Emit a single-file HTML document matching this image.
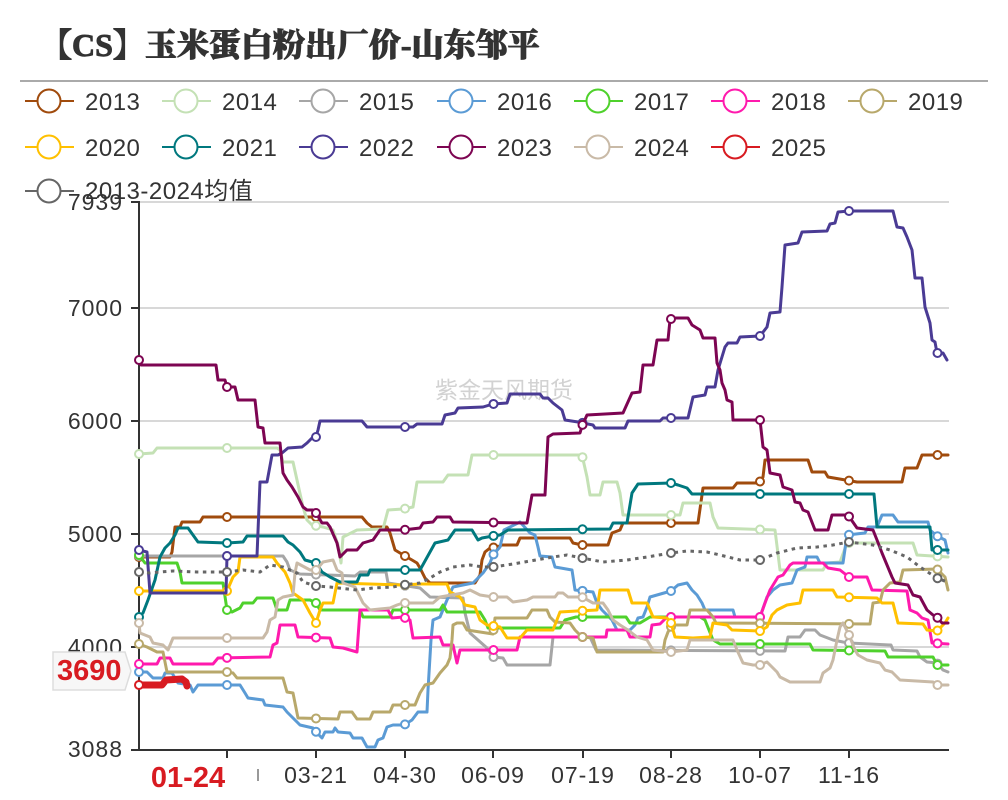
<!DOCTYPE html>
<html><head><meta charset="utf-8">
<style>
html,body{margin:0;padding:0;background:#fff;width:1008px;height:800px;overflow:hidden}
svg{display:block}
.t{font-family:"Liberation Sans","Noto Sans CJK SC",sans-serif;fill:#333}
</style></head><body>
<svg id="c" width="1008" height="800" viewBox="0 0 1008 800" xmlns="http://www.w3.org/2000/svg">
<rect width="1008" height="800" fill="#fff"/>
<!-- title -->
<text x="40" y="56" font-family="'Liberation Serif','Noto Serif CJK SC',serif" font-weight="900" font-size="32" fill="#333" stroke="#333" stroke-width="0.9">【CS】玉米蛋白粉出厂价-山东邹平</text>
<line x1="20" y1="81" x2="988" y2="81" stroke="#aaa" stroke-width="2"/>

<!-- legend -->
<g id="legend" stroke-width="2" fill="#fff">
<g stroke="#a04b0d"><line x1="25" y1="101" x2="74" y2="101"/><circle cx="49" cy="101" r="11.5"/></g>
<g stroke="#c4e1b5"><line x1="162" y1="101" x2="211" y2="101"/><circle cx="186" cy="101" r="11.5"/></g>
<g stroke="#a6a6a6"><line x1="299" y1="101" x2="348" y2="101"/><circle cx="323" cy="101" r="11.5"/></g>
<g stroke="#5b9bd5"><line x1="437" y1="101" x2="486" y2="101"/><circle cx="461" cy="101" r="11.5"/></g>
<g stroke="#4fd12c"><line x1="574" y1="101" x2="623" y2="101"/><circle cx="598" cy="101" r="11.5"/></g>
<g stroke="#ff1aad"><line x1="711" y1="101" x2="760" y2="101"/><circle cx="735" cy="101" r="11.5"/></g>
<g stroke="#b8a86b"><line x1="848" y1="101" x2="897" y2="101"/><circle cx="872" cy="101" r="11.5"/></g>
<g stroke="#ffc000"><line x1="25" y1="147" x2="74" y2="147"/><circle cx="49" cy="147" r="11.5"/></g>
<g stroke="#00787e"><line x1="162" y1="147" x2="211" y2="147"/><circle cx="186" cy="147" r="11.5"/></g>
<g stroke="#4a3b94"><line x1="299" y1="147" x2="348" y2="147"/><circle cx="323" cy="147" r="11.5"/></g>
<g stroke="#7d0552"><line x1="437" y1="147" x2="486" y2="147"/><circle cx="461" cy="147" r="11.5"/></g>
<g stroke="#c9baa7"><line x1="574" y1="147" x2="623" y2="147"/><circle cx="598" cy="147" r="11.5"/></g>
<g stroke="#d81b21"><line x1="711" y1="147" x2="760" y2="147"/><circle cx="735" cy="147" r="11.5"/></g>
<g stroke="#666"><line x1="25" y1="191" x2="74" y2="191"/><circle cx="49" cy="191" r="11.5"/></g>
</g>
<g class="t" font-size="24" letter-spacing="0.5">
<text x="85" y="110">2013</text><text x="222" y="110">2014</text><text x="359" y="110">2015</text><text x="497" y="110">2016</text><text x="634" y="110">2017</text><text x="771" y="110">2018</text><text x="908" y="110">2019</text>
<text x="85" y="156">2020</text><text x="222" y="156">2021</text><text x="359" y="156">2022</text><text x="497" y="156">2023</text><text x="634" y="156">2024</text><text x="771" y="156">2025</text>
<text x="85" y="199">2013-2024均值</text>
</g>

<!-- grid -->
<g stroke="#ccc" stroke-width="1.5">
<line x1="139" y1="202" x2="949" y2="202"/>
<line x1="139" y1="308" x2="949" y2="308"/>
<line x1="139" y1="421" x2="949" y2="421"/>
<line x1="139" y1="534" x2="949" y2="534"/>
<line x1="139" y1="647" x2="949" y2="647"/>
</g>
<!-- watermark -->
<text x="435" y="398" font-family="'Liberation Sans','Noto Sans CJK SC',sans-serif" font-size="23" fill="#d2d2d2">紫金天风期货</text>

<!-- axes -->
<g stroke="#333" stroke-width="2">
<line x1="139" y1="201" x2="139" y2="751"/>
<line x1="138" y1="750" x2="949" y2="750"/>
<line x1="131" y1="202" x2="139" y2="202"/><line x1="131" y1="308" x2="139" y2="308"/><line x1="131" y1="421" x2="139" y2="421"/><line x1="131" y1="534" x2="139" y2="534"/><line x1="131" y1="647" x2="139" y2="647"/><line x1="131" y1="750" x2="139" y2="750"/>
<line x1="227" y1="750" x2="227" y2="758"/><line x1="316" y1="750" x2="316" y2="758"/><line x1="405" y1="750" x2="405" y2="758"/><line x1="493" y1="750" x2="493" y2="758"/><line x1="583" y1="750" x2="583" y2="758"/><line x1="671" y1="750" x2="671" y2="758"/><line x1="760" y1="750" x2="760" y2="758"/><line x1="849" y1="750" x2="849" y2="758"/>
</g>
<g class="t" font-size="23" letter-spacing="1" text-anchor="end">
<text x="123" y="210">7939</text><text x="123" y="316">7000</text><text x="123" y="429">6000</text><text x="123" y="542">5000</text><text x="123" y="655">4000</text><text x="123" y="757">3088</text>
</g>
<g class="t" font-size="23" letter-spacing="1" text-anchor="middle">
<text x="316" y="783">03-21</text><text x="405" y="783">04-30</text><text x="493" y="783">06-09</text><text x="583" y="783">07-19</text><text x="671" y="783">08-28</text><text x="760" y="783">10-07</text><text x="849" y="783">11-16</text>
</g>
<line x1="258" y1="769" x2="258" y2="781" stroke="#555" stroke-width="1.2"/>

<!-- series -->
<g fill="none" stroke-width="3" stroke-linejoin="round" stroke-linecap="round">
<g><polyline class="s" stroke="#a04b0d" points="139,557 170,557 172,552 175,527 180,527 182,522 200,522 203,517 362,517 367,523 372,527 387,527 390,533 395,550 400,553 405,556 412,560 417,563 420,568 425,578 430,583 475,583 480,575 482,560 485,552 490,548 497,547 502,545 517,545 520,538 570,538 573,543 582,545 608,545 612,533 620,530 623,523 698,523 703,488 733,488 737,483 759,483 763,477 765,460 808,460 812,472 825,472 828,477 857,482 902,482 905,468 917,468 922,455 948,455"/></g>
<g><polyline class="s" stroke="#c4e1b5" points="139,454 153,453 157,448 277,448 280,450 283,462 293,462 297,480 303,507 307,520 312,525 323,527 333,530 338,545 341,563 343,537 357,530 383,529 388,510 403,509 413,507 417,482 443,482 448,475 468,475 472,455 582,455 587,477 590,495 600,495 603,482 617,482 620,493 623,515 680,515 683,503 710,503 713,517 718,528 775,530 780,570 823,570 827,563 840,562 847,543 913,543 917,555 948,557"/></g>
<g><polyline class="s" stroke="#a6a6a6" points="139,556 283,556 287,562 290,570 300,574 355,576 360,572 386,572 388,583 420,588 430,597 463,598 465,613 470,633 478,640 487,648 493,657 503,658 507,665 550,665 553,637 590,637 596,650 785,651 788,637 800,637 805,630 815,630 820,635 833,640 843,642 849,643 891,645 893,650 917,651 920,657 927,662 937,663 943,670 948,672"/></g>
<g><polyline class="s" stroke="#5b9bd5" points="139,672 147,672 153,678 163,678 165,673 172,673 178,683 190,685 193,692 198,685 240,685 245,693 248,698 263,700 265,705 283,707 287,712 293,718 300,725 313,728 317,733 322,738 325,732 333,732 335,728 338,732 350,733 353,738 362,738 367,747 375,747 378,740 383,738 387,727 393,725 404,725 412,720 418,712 427,712 428,690 431,640 433,620 440,617 447,600 453,587 473,583 483,573 490,563 493,555 500,547 504,530 520,522 530,533 535,535 538,547 540,556 552,557 555,567 572,570 575,590 593,592 597,603 602,610 612,620 617,630 630,630 635,625 638,618 643,617 647,607 650,597 657,595 671,591 678,585 687,583 692,590 697,595 702,603 705,610 733,610 735,617 760,617 767,597 773,590 780,585 792,583 797,570 805,567 807,557 817,557 820,563 843,563 847,535 865,533 868,527 877,527 882,515 893,515 898,522 928,522 930,530 937,536 945,540 948,553"/></g>
<g><polyline class="s" stroke="#4fd12c" points="139,555 145,563 177,563 180,572 182,583 223,583 227,610 232,612 240,608 243,603 253,603 257,598 273,598 277,610 287,610 290,600 310,600 316,603 320,610 360,610 363,617 390,617 393,610 440,610 443,605 447,612 480,612 485,620 488,628 560,628 565,620 576,617 626,617 630,623 640,623 650,617 700,617 705,620 713,640 720,644 810,644 813,650 885,651 888,657 933,657 937,665 948,665"/></g>
<g><polyline class="s" stroke="#ff1aad" points="139,664 157,664 160,658 170,658 173,664 213,664 218,658 270,657 273,645 277,643 280,625 295,625 298,637 330,638 333,647 343,648 357,652 360,610 388,610 392,618 403,617 410,620 413,638 440,637 443,645 453,645 457,663 460,650 487,650 517,650 520,637 606,637 607,630 627,630 630,637 650,637 652,625 660,624 667,617 760,617 765,603 770,590 778,577 783,575 790,565 793,563 823,563 828,568 840,570 849,577 867,577 872,590 907,591 910,610 917,613 922,618 928,620 932,643 948,644"/></g>
<g><polyline class="s" stroke="#b8a86b" points="139,644 147,647 157,652 163,652 167,672 227,672 233,673 237,678 283,678 287,692 293,693 298,718 338,719 340,712 352,712 357,719 370,719 373,712 390,712 393,705 415,705 420,693 425,685 433,683 440,673 447,665 450,658 452,640 453,625 457,623 463,623 467,630 493,634 495,618 527,618 532,610 547,610 550,617 555,622 570,623 575,630 582,637 593,638 597,652 663,652 665,640 668,632 672,625 687,625 690,610 707,610 713,617 716,623 870,624 873,603 880,602 883,590 890,583 900,582 903,570 937,569 945,577 948,590"/></g>
<g><polyline class="s" stroke="#ffc000" points="139,591 227,591 233,577 238,572 240,557 273,557 277,563 285,572 290,583 293,593 303,600 310,613 316,623 320,610 323,603 333,603 337,583 403,585 420,584 447,584 450,592 460,597 465,605 475,607 480,620 487,625 500,627 507,638 520,638 527,630 553,630 560,612 577,611 597,610 600,590 628,590 632,603 647,603 653,617 667,618 671,623 675,637 693,638 710,637 713,623 727,625 732,630 760,631 767,627 772,615 777,610 787,605 800,603 803,590 833,590 837,597 877,598 882,603 893,603 898,623 923,624 927,630 937,631 945,623 948,618"/></g>
<g><polyline class="s" stroke="#00787e" points="139,617 143,613 148,600 155,580 160,557 165,548 170,543 175,535 178,528 188,528 193,535 198,542 227,543 243,542 247,536 283,536 288,542 293,545 300,552 305,560 316,563 322,572 330,577 340,582 357,582 360,575 368,575 370,570 420,570 435,543 448,540 455,530 472,530 478,540 482,538 493,536 500,535 508,530 610,529 613,523 627,523 632,493 638,484 671,483 678,485 687,488 692,494 874,494 877,527 930,527 932,550 948,550"/></g>
<g><polyline class="s" stroke="#4a3b94" points="139,550 147,552 150,593 226,593 227,556 257,556 260,482 267,482 272,455 278,455 282,453 288,448 302,447 307,443 312,438 316,437 318,430 320,421 362,421 367,427 413,427 417,424 442,424 445,415 455,413 458,408 483,407 493,404 507,403 510,394 540,394 543,398 548,398 553,403 562,410 565,420 578,422 593,425 595,428 625,428 628,421 660,421 663,418 688,418 693,397 705,395 707,387 715,387 718,370 725,347 728,343 737,343 740,337 760,336 767,327 770,313 780,312 782,287 785,245 798,243 802,232 827,231 830,224 835,223 838,212 849,211 893,211 897,227 903,228 907,237 912,250 915,278 922,278 925,307 930,323 932,340 935,342 937,353 943,353 947,360"/></g>
<g><polyline class="s" stroke="#7d0552" points="139,360 141,365 216,365 218,380 225,380 227,387 235,387 238,400 255,400 258,427 263,428 265,443 280,443 283,473 287,480 292,487 298,497 303,507 307,510 313,510 316,513 322,523 327,523 330,527 337,543 340,557 347,550 357,550 363,543 373,540 380,530 403,530 420,528 423,523 433,522 437,517 450,517 453,522 527,523 532,495 545,495 548,437 553,434 580,433 582,426 587,415 623,413 632,393 640,392 643,365 653,365 657,340 668,340 670,320 672,318 688,318 692,325 700,330 703,338 715,338 717,363 720,370 722,383 725,390 727,400 732,402 733,420 760,420 763,447 767,450 770,473 780,475 783,487 792,490 795,502 800,503 803,510 808,512 815,530 828,530 832,515 848,515 857,528 873,530 877,540 882,553 887,565 892,577 895,583 908,585 913,595 920,597 927,610 933,615 938,618 942,623 948,623"/></g>
<g><polyline class="s" stroke="#c9baa7" points="139,623 140,633 150,637 153,643 163,645 168,650 173,638 263,638 267,632 270,620 275,617 278,600 283,597 293,595 295,573 297,563 310,570 316,570 323,562 333,560 337,570 342,573 343,583 355,587 360,597 363,603 370,610 390,608 397,605 403,603 433,603 440,597 463,593 470,590 480,595 493,597 507,597 513,602 527,600 533,597 555,597 558,593 563,593 568,597 582,597 593,603 603,603 608,610 613,620 620,625 628,630 637,637 647,640 653,650 671,652 687,650 690,640 733,640 737,650 743,663 753,665 760,665 767,662 772,667 777,672 780,677 790,682 820,682 823,673 830,668 833,660 837,640 840,627 843,623 849,635 855,650 858,655 867,660 880,663 885,670 892,672 900,680 933,682 937,685 948,685"/></g>
<g><polyline class="s one" stroke="#d81b21" stroke-width="7" points="139,685 162,685 166,680 182,679 186,682 187,686"/></g>
<g><polyline class="s" stroke="#666" stroke-dasharray="3.5 4.5" stroke-linecap="butt" points="139,572 150,573 160,572 173,571 197,572 227,572 243,570 260,572 270,565 283,567 297,573 303,582 316,586 330,587 357,590 373,588 393,587 403,585 420,583 430,578 440,572 453,567 470,565 483,567 493,567 513,564 530,561 553,557 567,555 582,558 603,562 627,560 647,557 671,553 687,551 707,552 720,555 740,560 760,560 777,553 797,548 817,547 833,545 849,542 873,545 890,550 907,557 920,567 937,578 947,582"/></g>
</g>

<!-- 3690 label -->
<path d="M53,652 H125 L131,671 L125,690 H53 Z" fill="#f7f7f7" stroke="#ddd" stroke-width="1.5"/>
<text x="57" y="680" font-family="'Liberation Sans',sans-serif" font-weight="bold" font-size="29" fill="#d81b21">3690</text>
<!-- 01-24 label -->
<text x="188" y="787" text-anchor="middle" font-family="'Liberation Sans',sans-serif" font-weight="bold" font-size="29" fill="#d81b21">01-24</text>
</svg>
<script>
(function(){
var NS="http://www.w3.org/2000/svg";
var mx=[139,227,316,405,493.5,582.5,671,760,849,937.5];
var pls=document.querySelectorAll('polyline.s');
for(var k=0;k<pls.length;k++){
 var pl=pls[k];
 var pts=pl.getAttribute('points').trim().split(/\s+/).map(function(p){return p.split(',').map(Number);});
 var col=pl.getAttribute('stroke');
 var one=pl.classList.contains('one');
 var xs=one?[139]:mx;
 for(var j=0;j<xs.length;j++){
  var x=xs[j],y=null;
  for(var i=0;i<pts.length-1;i++){
   var a=pts[i],b=pts[i+1];
   if(x>=a[0]&&x<=b[0]){ y=(b[0]===a[0])?a[1]:a[1]+(b[1]-a[1])*(x-a[0])/(b[0]-a[0]); break;}
  }
  if(y===null){ if(x<pts[0][0]-1||x>pts[pts.length-1][0]+1) continue; y=(x<pts[0][0])?pts[0][1]:pts[pts.length-1][1]; }
  var c=document.createElementNS(NS,'circle');
  c.setAttribute('cx',x);c.setAttribute('cy',y);c.setAttribute('r',4);
  c.setAttribute('fill','#fff');c.setAttribute('stroke',col);c.setAttribute('stroke-width',2);c.setAttribute('stroke-dasharray','none');
  pl.parentNode.appendChild(c);
 }
}
})();
</script>
</body></html>
